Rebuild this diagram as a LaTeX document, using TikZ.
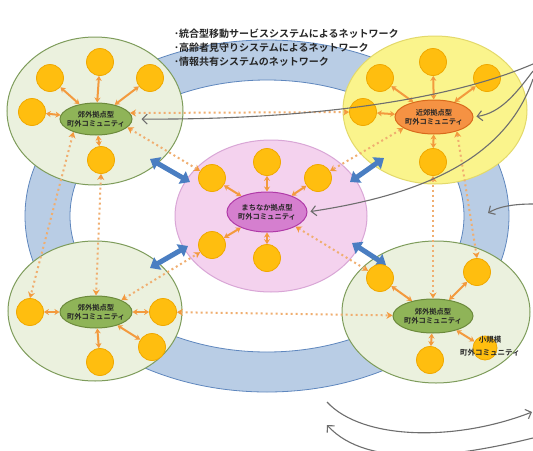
\documentclass[tikz,border=0pt]{standalone}
\usepackage{fontspec}
\newfontfamily\jp{Noto Sans CJK JP Bold}
\usetikzlibrary{shapes.geometric,arrows.meta}
\definecolor{ringfill}{HTML}{B9CDE5}
\definecolor{ringedge}{HTML}{5F87BE}
\definecolor{gfill}{HTML}{EBF1DE}
\definecolor{gedge}{HTML}{7E9C5B}
\definecolor{yfill}{HTML}{FAF48C}
\definecolor{yedge}{HTML}{E3D96A}
\definecolor{pfill}{HTML}{F4D2EE}
\definecolor{pedge}{HTML}{D9A6D6}
\definecolor{hubg}{HTML}{8FB458}
\definecolor{hubgedge}{HTML}{6C8A3C}
\definecolor{hubo}{HTML}{F59243}
\definecolor{huboedge}{HTML}{D9691B}
\definecolor{hubm}{HTML}{D57FCF}
\definecolor{hubmedge}{HTML}{B03AA8}
\definecolor{sat}{HTML}{FFBE0F}
\definecolor{satedge}{HTML}{F0A800}
\definecolor{oarrow}{HTML}{F39A3E}
\definecolor{odot}{HTML}{F0AE70}
\definecolor{barrow}{HTML}{4A7EC2}
\definecolor{garrow}{HTML}{6E6E6E}
\begin{document}
\begin{tikzpicture}[x=1pt,y=-1pt,
  big/.style={ellipse, draw, line width=1pt, inner sep=0pt},
  hub/.style={ellipse, draw, line width=1pt, inner ysep=0pt, inner xsep=-6pt, align=center,
    font=\jp\fontsize{7.3}{9}\selectfont, text=black!85},
  satn/.style={circle, fill=sat, draw=satedge, line width=0.8pt, minimum size=27pt, inner sep=0pt},
  link/.style={draw=oarrow, line width=2pt, {Stealth[length=5pt,width=6pt]}-{Stealth[length=5pt,width=6pt]}},
  dlink/.style={draw=odot, line width=2pt, dash pattern=on 2pt off 3pt,
    {Stealth[length=6pt,width=7pt,color=oarrow]}-{Stealth[length=6pt,width=7pt,color=oarrow]}},
  blu/.style={draw=barrow, line width=5pt, {Triangle[length=9pt,width=14pt]}-{Triangle[length=9pt,width=14pt]}},
  garr/.style={draw=garrow, line width=1.1pt, -{Straight Barb[length=5pt,width=10pt]}}]
\useasboundingbox (0,0) rectangle (533,450);
\fill[white] (0,0) rectangle (533,450);
\clip (0,0) rectangle (533,450);
% ring
\fill[ringfill, even odd rule] (267,216) ellipse [x radius=242pt, y radius=176pt]
  (267,216) ellipse [x radius=197pt, y radius=136pt];
\draw[ringedge, line width=0.8pt] (267,216) ellipse [x radius=242pt, y radius=176pt];
\draw[ringedge, line width=0.8pt] (267,216) ellipse [x radius=197pt, y radius=136pt];
% big ellipses
\node[big, fill=gfill, draw=gedge, minimum width=176pt, minimum height=148pt] (eTL) at (95,111) {};
\node[big, fill=yfill, draw=yedge, minimum width=184pt, minimum height=148pt] (eTR) at (435,110) {};
\node[big, fill=gfill, draw=gedge, minimum width=174pt, minimum height=140pt] (eBL) at (95,311) {};
\node[big, fill=gfill, draw=gedge, minimum width=188pt, minimum height=142pt] (eBR) at (436,312) {};
\node[big, fill=pfill, draw=pedge, minimum width=192pt, minimum height=152pt] (eC) at (271,216) {};
% blue arrows
\coordinate (bTL1) at (150,159); \coordinate (bTL2) at (190,182);
\coordinate (bTR1) at (384,158); \coordinate (bTR2) at (350,182);
\coordinate (bBL1) at (150,268); \coordinate (bBL2) at (188,246);
\coordinate (bBR1) at (352,243); \coordinate (bBR2) at (386,265);
\draw[blu] (bTL1) -- (bTL2);
\draw[blu] (bTR1) -- (bTR2);
\draw[blu] (bBL1) -- (bBL2);
\draw[blu] (bBR1) -- (bBR2);
% hubs
\node[hub, fill=hubg, draw=hubgedge, minimum width=72pt, minimum height=32pt] (hubTL) at (96,119) {郊外拠点型\\町外コミュニティ};
\node[hub, fill=hubo, draw=huboedge, minimum width=78pt, minimum height=34pt] (hubTR) at (434,117) {近郊拠点型\\町外コミュニティ};
\node[hub, fill=hubm, draw=hubmedge, minimum width=80pt, minimum height=40pt] (hubC) at (267,212) {まちなか拠点型\\町外コミュニティ};
\node[hub, fill=hubg, draw=hubgedge, minimum width=72pt, minimum height=32pt] (hubBL) at (96,312) {郊外拠点型\\町外コミュニティ};
\node[hub, fill=hubg, draw=hubgedge, minimum width=80pt, minimum height=34pt] (hubBR) at (433,316) {郊外拠点型\\町外コミュニティ};
% satellites
\node[satn] (t1) at (100,62) {}; \node[satn] (t2) at (50,78) {}; \node[satn] (t3) at (150,78) {};
\node[satn] (t4) at (32,112) {}; \node[satn] (t5) at (101,160) {};
\node[satn] (r1) at (433,62) {}; \node[satn] (r2) at (380,78) {}; \node[satn] (r3) at (487,78) {};
\node[satn] (r4) at (363,112) {}; \node[satn] (r5) at (433,162) {};
\node[satn] (c1) at (267,162) {}; \node[satn] (c2) at (212,178) {}; \node[satn] (c3) at (318,178) {};
\node[satn] (c4) at (212,245) {}; \node[satn] (c5) at (267,258) {};
\node[satn] (b1) at (30,312) {}; \node[satn] (b2) at (163,312) {}; \node[satn] (b3) at (152,347) {};
\node[satn] (b4) at (100,362) {};
\node[satn] (s1) at (380,278) {}; \node[satn] (s2) at (477,272) {}; \node[satn] (s3) at (430,360) {};
\node[satn, minimum size=24pt] (s4) at (485,348) {};
% solid links
\foreach \s in {t1,t2,t3,t4,t5} \draw[link] (hubTL) -- (\s);
\foreach \s in {r1,r2,r3,r4,r5} \draw[link] (hubTR) -- (\s);
\foreach \s in {c1,c2,c3,c4,c5} \draw[link] (hubC) -- (\s);
\foreach \s in {b1,b2,b3,b4} \draw[link] (hubBL) -- (\s);
\foreach \s in {s1,s2,s3,s4} \draw[link] (hubBR) -- (\s);
% dotted links
\draw[dlink] (hubTL.10) -- (r4);
\draw[dlink] (hubTL.-15) -- (c2);
\draw[dlink] (hubTR.-160) -- (c3);
\draw[dlink] (hubTR.-32) -- (s2.north);
\draw[dlink] (r5) -- (hubBR);
\draw[dlink] (t5.south) -- (hubBL.north);
\draw[dlink] (hubTL.-150) -- (b1.north);
\draw[dlink] (hubBL.25) -- (c4);
\draw[dlink] (hubC.-27) -- (s1);
\draw[dlink] (b2) -- (hubBR);
% grey curves
\coordinate (g1s) at (533,64);
\coordinate (g2s) at (533,71);
\coordinate (g3s) at (533,79);
\coordinate (g4s) at (533,204); \coordinate (g4e) at (488,213);
\coordinate (g5s) at (327,402); \coordinate (g5e) at (532,412);
\coordinate (g6s) at (533,438); \coordinate (g6e) at (327,425);
\draw[garr, shorten >=9pt] (g1s) .. controls (445,102) and (300,120) .. (hubTL.east);
\draw[garr, shorten >=3pt] (g2s) .. controls (515,95) and (500,113) .. (hubTR.east);
\draw[garr, shorten >=3pt] (g3s) .. controls (505,160) and (420,195) .. (hubC.east);
\draw[garr] (g4s) .. controls (512,204) and (498,207) .. (g4e);
\draw[garr] (g5s) .. controls (362,440) and (455,442) .. (g5e);
\draw[garr] (g6s) .. controls (460,456) and (368,470) .. (g6e);
% texts
\node[anchor=north west, align=left, inner sep=0pt, font=\jp\fontsize{10}{14}\selectfont, text=black!85]
  (title) at (174,29) {･統合型移動サービスシステムによるネットワーク\\･高齢者見守りシステムによるネットワーク\\･情報共有システムのネットワーク};
\node[align=center, inner sep=0pt, font=\jp\fontsize{7.5}{13}\selectfont, text=black!85]
  (smallTxt) at (490,346) {小規模\hspace{10pt}\\町外コミュニティ};
\end{tikzpicture}
\end{document}
